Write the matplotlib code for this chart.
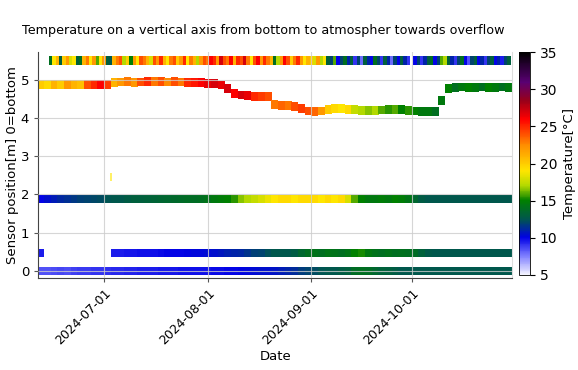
import numpy as np
import pandas as pd
import matplotlib
matplotlib.use("Agg")
import matplotlib.pyplot as plt
import matplotlib.dates as mdates
from matplotlib.colors import LinearSegmentedColormap, Normalize
from matplotlib.cm import ScalarMappable

# ------------------------------------------------------------
# data (2-day steps unless noted)
# ------------------------------------------------------------
dates2 = pd.date_range("2024-06-12", "2024-10-30", freq="2D")   # 71 steps
dates1 = pd.date_range("2024-06-15", "2024-10-30", freq="D")    # 138 days (top sensor)

# floating sensor: position [m] and temperature
float_pos = [4.87] * 11 + [
    4.92, 4.94, 4.95, 4.93, 4.94, 4.95, 4.96, 4.95, 4.94, 4.95, 4.94, 4.93, 4.92, 4.92, 4.91,
    4.9, 4.86, 4.76, 4.65, 4.6, 4.58, 4.57, 4.56, 4.56,
    4.36, 4.33, 4.32, 4.3, 4.25, 4.18, 4.16, 4.18, 4.22,
    4.24, 4.24, 4.23, 4.22, 4.2, 4.19, 4.2, 4.21, 4.22, 4.23, 4.22, 4.2, 4.18,
    4.17, 4.17, 4.16, 4.45,
    4.78, 4.8, 4.81, 4.8, 4.8, 4.81, 4.8, 4.8, 4.81, 4.8]
float_temp = [
    20, 19.5, 21, 20, 22, 21, 20.5, 24, 25, 26, 24.5,
    21, 22, 23, 22, 24, 25, 23, 24, 22.5, 24, 23, 25, 25.5, 26, 26.5,
    27, 26.5, 27, 26, 27, 26.5, 25, 24.5, 24,
    23, 23.5, 23, 24, 24.5, 24, 23.5, 22,
    20, 19.5, 19, 19.5,
    17.5, 17, 16.5, 17, 16, 15.5, 16, 15, 15.5,
    15, 14.5, 14.5, 14,
    14.5, 15, 14, 14.5, 15, 14.5, 14, 15, 14.5, 14, 14.5]

# sensor at 1.9 m
mid_temp = [
    10, 10.4, 10.8, 11.1, 11.4, 11.6, 11.8, 12, 12.1, 12.2,
    12.4, 12.5, 12.6, 12.8, 13, 13,
    13.2, 13.3, 13.4, 13.5, 13.6, 13.7, 13.8, 13.9, 14,
    14.2, 14.5, 14.8, 15, 15.5,
    16.5, 17, 17.5, 18, 18.5,
    19, 19.5, 19.5, 19, 19.5, 19.5, 19.5, 19, 19.5, 19, 19.5, 18,
    16, 15, 14.5, 14.5, 14.8, 14.5, 15, 14.8, 14.3,
    13.5, 12.8] + [12.5] * 13

# sensor at 0.5 m (one early reading, then gap until July)
low_temp = [9.5] + [np.nan] * 10 + [
    9.5, 9.5, 9.6, 9.6, 9.7, 9.8, 9.8, 9.9, 10, 10, 10, 10.1, 10.2, 10.2, 10.3,
    10.5, 10.7, 10.9, 11, 11.2, 11.5, 11.8, 12,
    12.3, 12.5, 12.5, 12.6, 12.8, 13.5,
    14, 14.2, 14, 14.3, 14.2, 14, 14.3,
    15, 15.3,
    14.5, 14.2, 14, 14.2, 14, 14.1, 14, 13.8,
    13.2, 12.7] + [12.5] * 12

# bottom sensor 0 m
bottom_temp = [
    8.5, 8.5, 8.6, 8.7, 8.6, 8.8, 8.9, 8.9, 9, 9.1, 9.2,
    9.3, 9.3, 9.4, 9.4, 9.5, 9.5, 9.5, 9.6, 9.6, 9.6, 9.7, 9.7, 9.8, 9.8, 9.8,
    9.9, 9.9, 10, 10, 10.1, 10.2, 10.3, 10.4, 10.5, 10.6, 10.8, 11, 11.3, 11.7,
    12, 12.2, 12.4, 12.5, 12.6, 12.8, 13,
    13.8, 14, 13.8, 13.5, 13.2, 13, 12.8] + [12.5] * 17

# atmosphere sensor 5.5 m, daily
top_temp = [
    14, 19, 21, 13, 20, 22, 18, 19, 13, 14, 21, 23, 19, 22, 16, 19, 22,
    13, 12.5, 21, 23, 24, 17, 20, 15, 22, 19, 24, 23, 21, 18, 24,
    22, 25, 21, 19, 23, 24, 20, 22, 25, 19, 23, 21, 17, 22, 24,
    23, 26, 25, 22, 27, 24, 23, 26, 21, 25, 24, 27, 23, 19, 24, 26,
    22, 25, 23, 21, 14, 17, 22, 26, 24, 20, 23, 25, 22, 19, 21,
    20, 18, 22, 17, 19, 13, 12, 16, 10, 12, 14, 11, 13, 9, 12,
    8, 13, 11, 10, 14, 12, 9, 13, 11, 8, 12, 10, 13, 11, 9,
    np.nan,
    10, 12, 9, 11, 13, 14, 10, 12, 16, 17, 13, 11, 9, 12, 14,
    10, 8.5, 12, 13, 10, 11, 9, 12, 13, 10, 11, 9.5, 12, 13]

mid_pos, low_pos, bottom_pos, top_pos = 1.88, 0.47, 0.0, 5.5

# colour scale: white -> blue -> teal -> green -> yellow -> red -> purple -> black
cmap = LinearSegmentedColormap.from_list("temp", [
    (0.0, (0.95, 0.95, 1.0)),
    (2.5 / 30, (0.5, 0.5, 1.0)),
    (5.0 / 30, (0.0, 0.0, 0.9)),
    (7.5 / 30, (0.0, 0.34, 0.3)),
    (10.0 / 30, (0.0, 0.5, 0.0)),
    (12.0 / 30, (0.7, 0.85, 0.0)),
    (14.0 / 30, (1.0, 0.9, 0.0)),
    (17.5 / 30, (1.0, 0.55, 0.0)),
    (21.0 / 30, (1.0, 0.0, 0.0)),
    (23.5 / 30, (0.6, 0.0, 0.1)),
    (26.0 / 30, (0.35, 0.0, 0.45)),
    (1.0, (0.0, 0.0, 0.0)),
])
norm = Normalize(vmin=5, vmax=35)

fig = plt.figure(figsize=(5.78, 3.70), dpi=100)
ax = fig.add_axes([0.066, 0.249, 0.82, 0.61])
cax = fig.add_axes([0.898, 0.257, 0.019, 0.602])

bar_h = 0.23


def draw_row(x, pos, temp, width):
    temp = np.asarray(temp, dtype=float)
    pos = np.broadcast_to(np.asarray(pos, dtype=float), temp.shape)
    ok = ~np.isnan(temp)
    ax.bar(np.asarray(x)[ok], bar_h, width=width, bottom=pos[ok] - bar_h / 2,
           color=cmap(norm(temp[ok])), linewidth=0, zorder=1)


draw_row(dates2, bottom_pos, bottom_temp, 2.1)
draw_row(dates2, low_pos, low_temp, 2.1)
draw_row(dates2, mid_pos, mid_temp, 2.1)
draw_row(dates2, float_pos, float_temp, 2.1)
draw_row(dates1, top_pos, top_temp, 1.05)
# single odd reading at 2.45 m early July
ax.bar([pd.Timestamp("2024-07-03")], 0.2, width=0.6, bottom=2.35,
       color=cmap(norm(19)), linewidth=0, alpha=0.6, zorder=1)

ax.set_xlim(pd.Timestamp("2024-06-11 06:00"), pd.Timestamp("2024-10-31"))
ax.set_ylim(-0.18, 5.72)
ax.set_yticks([0, 1, 2, 3, 4, 5])
ax.xaxis.set_major_locator(mdates.MonthLocator(bymonth=[7, 8, 9, 10]))
ax.xaxis.set_major_formatter(mdates.DateFormatter("%Y-%m-%d"))
plt.setp(ax.get_xticklabels(), rotation=45, ha="right", rotation_mode="anchor")
ax.tick_params(axis="x", labelsize=9)
ax.tick_params(axis="y", labelsize=9.5)
ax.tick_params(length=3, color="#555555")

ax.set_axisbelow(False)
ax.grid(True, color="#cccccc", linewidth=0.8, alpha=0.8)
for side in ["left", "bottom"]:
    ax.spines[side].set_color("#444444")
for side in ["top", "right"]:
    ax.spines[side].set_color("#dddddd")
ax.spines["top"].set_visible(False)

ax.set_xlabel("Date", fontsize=9.5, labelpad=2)
ax.set_ylabel("Sensor position[m] 0=bottom", fontsize=9.5, labelpad=1)
fig.suptitle("Temperature on a vertical axis from bottom to atmospher towards overflow",
             fontsize=9.2, x=0.455, y=0.935)

sm = ScalarMappable(norm=norm, cmap=cmap)
cb = fig.colorbar(sm, cax=cax)
cb.set_ticks([5, 10, 15, 20, 25, 30, 35])
cb.ax.tick_params(labelsize=10)
cb.set_label("Temperature[°C]", fontsize=9.5)
cb.outline.set_linewidth(0.6)

plt.savefig("out.png", dpi=100)
plt.close()
